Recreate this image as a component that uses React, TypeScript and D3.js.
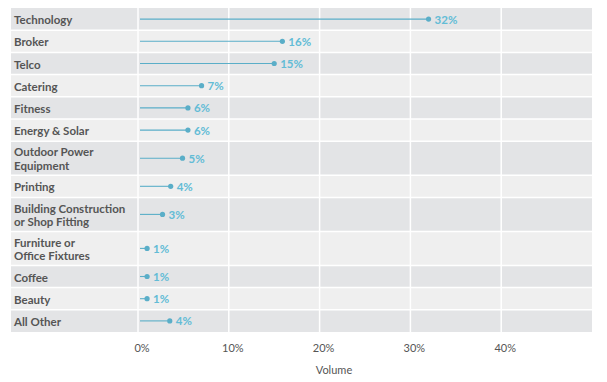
import React from "react";
import * as d3 from "d3";

const categories: string[][] = [
  ["Technology"],
  ["Broker"],
  ["Telco"],
  ["Catering"],
  ["Fitness"],
  ["Energy & Solar"],
  ["Outdoor Power", "Equipment"],
  ["Printing"],
  ["Building Construction", "or Shop Fitting"],
  ["Furniture or", "Office Fixtures"],
  ["Coffee"],
  ["Beauty"],
  ["All Other"],
];
const values: number[] = [32, 15.9, 15, 7, 5.5, 5.5, 4.9, 3.6, 2.7, 1, 1, 1, 3.5];
const xTicks: number[] = [0, 10, 20, 30, 40];
const axisTitle = "Volume";

const W = 607;
const H = 382;
const left = 11;
const plotLeft = 138;
const plotRight = 592;
const top = 8;
const bottom = 332;

export default function App() {
  const x = d3.scaleLinear().domain([0, 50]).range([plotLeft, plotRight]);
  const weights = categories.map((c) => (c.length > 1 ? 34 / 22.2 : 1));
  const totalW = d3.sum(weights);
  const unit = (bottom - top) / totalW;
  const ys: number[] = [];
  let acc = top;
  weights.forEach((w) => {
    ys.push(acc);
    acc += w * unit;
  });
  const font = "Lato, 'Open Sans', sans-serif";
  const lineColor = "#5aaec8";
  const labelColor = "#62bcd6";

  return (
    <svg
      width={W}
      height={H}
      style={{ position: "absolute", left: 0, top: 0, background: "#fff" }}
      fontFamily={font}
    >
      {categories.map((c, i) => {
        const y0 = ys[i];
        const h = weights[i] * unit;
        return (
          <rect
            key={"bg" + i}
            x={left}
            y={y0}
            width={plotRight - left}
            height={h}
            fill={i % 2 === 0 ? "#e3e4e6" : "#efefef"}
          />
        );
      })}
      {categories.map((c, i) =>
        i === 0 ? null : (
          <line
            key={"sep" + i}
            x1={left}
            x2={plotRight}
            y1={ys[i]}
            y2={ys[i]}
            stroke="#fff"
            strokeWidth={1.5}
          />
        )
      )}
      {xTicks.map((t) => (
        <line
          key={"g" + t}
          x1={x(t)}
          x2={x(t)}
          y1={top}
          y2={bottom}
          stroke="#fff"
          strokeWidth={1.5}
        />
      ))}
      {categories.map((c, i) => {
        const cy = ys[i] + (weights[i] * unit) / 2;
        const lh = 13.5;
        const startY = cy - ((c.length - 1) * lh) / 2;
        return (
          <text
            key={"lab" + i}
            x={14}
            y={startY}
            fontSize={11.5}
            fontWeight={700}
            fill="#555"
            dominantBaseline="central"
          >
            {c.map((line, j) => (
              <tspan key={j} x={14} y={startY + j * lh}>
                {line}
              </tspan>
            ))}
          </text>
        );
      })}
      {values.map((v, i) => {
        const cy = ys[i] + (weights[i] * unit) / 2;
        return (
          <g key={"lol" + i}>
            <line
              x1={x(0) + 2}
              x2={x(v)}
              y1={cy}
              y2={cy}
              stroke={lineColor}
              strokeWidth={1.1}
            />
            <circle cx={x(v)} cy={cy} r={2.6} fill={lineColor} />
            <text
              x={x(v) + 6}
              y={cy}
              fontSize={11.5}
              fontWeight={700}
              fill={labelColor}
              dominantBaseline="central"
            >
              {Math.round(v) + "%"}
            </text>
          </g>
        );
      })}
      {xTicks.map((t) => (
        <text
          key={"t" + t}
          x={x(t) + 4}
          y={347}
          fontSize={11}
          fill="#555"
          textAnchor="middle"
          dominantBaseline="central"
        >
          {t + "%"}
        </text>
      ))}
      <text
        x={334}
        y={369}
        fontSize={11}
        fill="#555"
        textAnchor="middle"
        dominantBaseline="central"
      >
        {axisTitle}
      </text>
    </svg>
  );
}
